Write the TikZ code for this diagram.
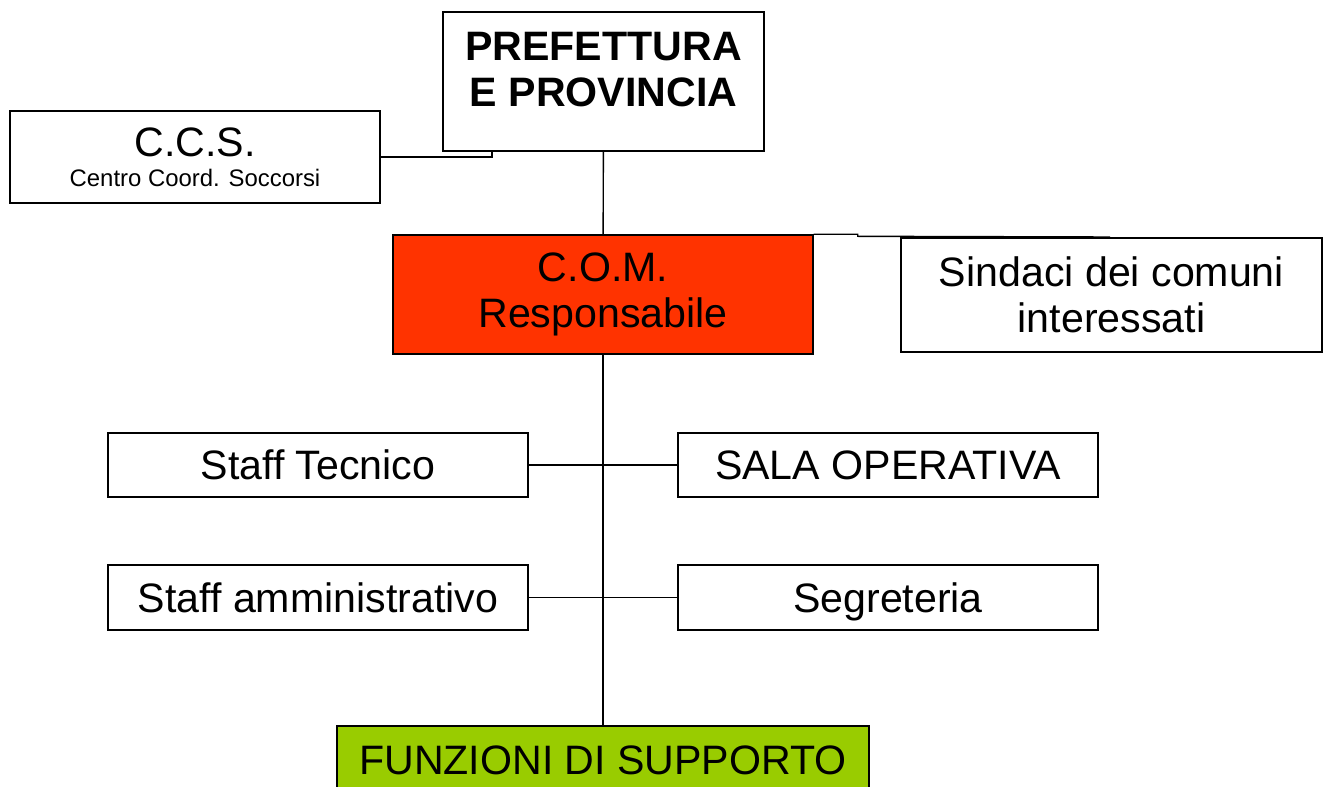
\documentclass[tikz,border=0pt]{standalone}
\usepackage{fontspec}
\setmainfont{Liberation Sans}
\definecolor{comred}{HTML}{FF3300}
\definecolor{supgreen}{HTML}{99CC00}
\tikzset{
  box/.style={draw, line width=0.8pt, fill=white, align=center, inner sep=0pt,
    font=\fontsize{23.4}{26.5}\selectfont},
}
\begin{document}
\begin{tikzpicture}
\useasboundingbox (0,0) rectangle (26.48,-15.74);
\node[box, minimum width=6.42cm, minimum height=2.78cm, text depth=0.48cm, font=\bfseries\fontsize{23.4}{26.5}\selectfont] (pref) at (12.07,-1.63){PREFETTURA\\E PROVINCIA};
\node[box, minimum width=7.4cm, minimum height=1.84cm] (ccs) at (3.9,-3.14){C.C.S.\\[-9.5pt]{\fontsize{13.6}{15}\selectfont Centro Coord. Soccorsi}};
\node[box, fill=comred, minimum width=8.4cm, minimum height=2.38cm] (com) at (12.06,-5.89){C.O.M.\\Responsabile};
\node[box, minimum width=8.42cm, minimum height=2.28cm] (sind) at (22.23,-5.9){Sindaci dei comuni\\interessati};
\node[box, minimum width=8.4cm, minimum height=1.28cm] (tec) at (6.36,-9.3){Staff Tecnico};
\node[box, minimum width=8.4cm, minimum height=1.28cm] (sala) at (17.76,-9.3){SALA OPERATIVA};
\node[box, minimum width=8.4cm, minimum height=1.3cm] (amm) at (6.36,-11.95){Staff amministrativo};
\node[box, minimum width=8.4cm, minimum height=1.3cm, text depth=0pt] (segr) at (17.76,-11.95){Segreteria};
\node[box, fill=supgreen, minimum width=10.64cm, minimum height=1.6cm] (funz) at (12.06,-15.32){};
\node[font=\fontsize{23.4}{26.5}\selectfont] (funzt) at (12.06,-15.2){FUNZIONI DI SUPPORTO};
\coordinate (ccsj) at (9.84,-3.02);
\coordinate (sindj) at (22.2,-4.74);
\draw[line width=0.8pt](pref) -- (com);
\draw[line width=0.8pt](ccs.east) -| (ccsj);
\draw[line width=0.8pt](com.north east) -- ++(0.88,0) -- ++(0,-0.04) -- (sindj);
\draw[line width=0.8pt](com) -- (funz);
\draw[line width=0.8pt](tec.east) -- (sala.west);
\draw[line width=0.8pt](amm.east) -- (segr.west);
\end{tikzpicture}
\end{document}
